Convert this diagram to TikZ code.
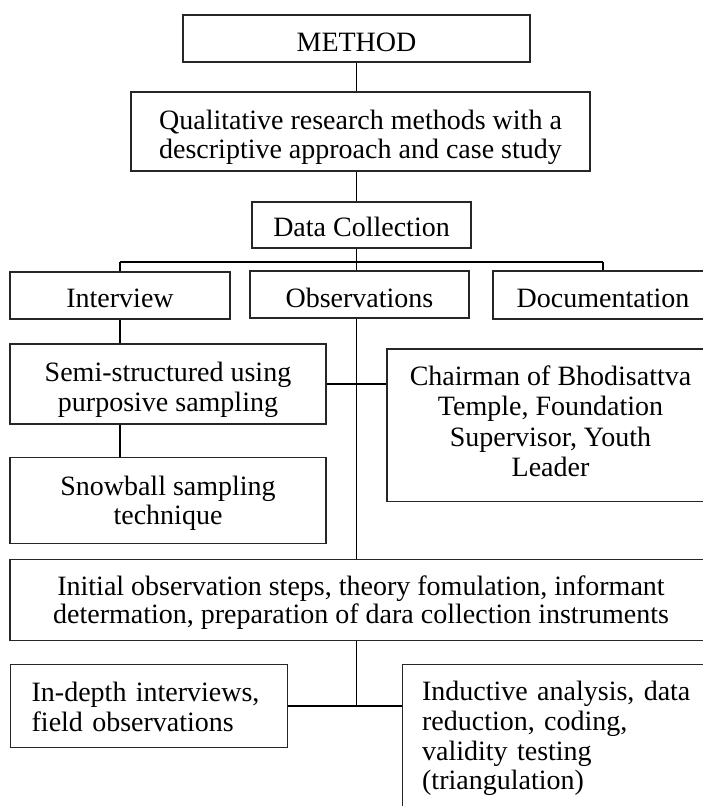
\documentclass[tikz,border=0pt]{standalone}
\usepackage{fontspec}
\setmainfont{Liberation Serif}
% #1 height of first line, #2 depth of last line, #3 text
\newcommand{\tbx}[3]{\rule{0pt}{#1pt}#3\rule[-#2pt]{0pt}{0pt}}
\begin{document}
\begin{tikzpicture}[x=1pt,y=-1pt,
  box/.style={draw=black!85, line width=1.3pt, inner sep=0pt, align=center,
    font=\fontsize{28}{29.5}\selectfont},
  conn/.style={line width=1.9pt, black},
  bus/.style={line width=2.3pt, black}]
\useasboundingbox (0,0) rectangle (703,806);
\coordinate (spine) at (356.5,0);
\coordinate (bus) at (0,262);
% boxes
\node[box, minimum width=347pt, minimum height=47pt] (method) at (356.5,38.5)
  {\tbx{34.4}{8}{METHOD}};
\node[box, minimum width=459pt, minimum height=79pt] (qual) at (360.5,131.5)
  {\tbx{33.1}{8}{Qualitative research methods with a\\descriptive approach and case study}};
\node[box, minimum width=219pt, minimum height=46pt] (dc) at (361.5,225)
  {\tbx{31.4}{8}{Data Collection}};
\node[box, minimum width=220pt, minimum height=47pt] (interview) at (120,295.5)
  {\tbx{32}{8}{Interview}};
\node[box, minimum width=219pt, minimum height=47pt] (obs) at (359.5,294.5)
  {\tbx{34}{8}{Observations}};
\node[box, minimum width=220pt, minimum height=48pt] (doc) at (603,295)
  {\tbx{33}{8}{Documentation}};
\node[box, minimum width=316pt, minimum height=80pt] (semi) at (168,384)
  {\tbx{32.9}{8}{Semi-structured using\\purposive sampling}};
\node[box, minimum width=327pt, minimum height=152.7pt,
  font=\fontsize{28}{30.5}\selectfont] (chair) at (550.5,425.35)
  {\tbx{20}{9.2}{Chairman of Bhodisattva\\Temple, Foundation\\Supervisor, Youth\\Leader}};
\node[box, minimum width=316pt, minimum height=86pt] (snow) at (168,500.3)
  {\tbx{26.9}{8}{Snowball sampling\\technique}};
\node[box, minimum width=702pt, minimum height=81.4pt,
  font=\fontsize{28}{28.5}\selectfont] (init) at (361,600)
  {\tbx{26.5}{8}{Initial observation steps, theory fomulation, informant\\determation, preparation of dara collection instruments}};
\node[box, anchor=north west, align=left, text width=235pt, inner xsep=21pt,
  minimum height=82.7pt, font=\fontsize{28}{30}\selectfont] (indepth) at (10,664)
  {\tbx{28.8}{8}{In-depth interviews,\\field observations}};
\node[box, anchor=north west, align=left, text width=290pt, inner xsep=19.5pt,
  inner ysep=10pt, font=\fontsize{28}{29.7}\selectfont] (induct) at (402,664)
  {\tbx{26}{20}{Inductive analysis, data\\reduction, coding,\\validity testing\\(triangulation)}};
% connectors
\draw[conn] (method.south -| spine) -- (qual.north -| spine);
\draw[conn] (qual.south -| spine) -- (dc.north -| spine);
\draw[conn] (dc.south -| spine) -- (obs.north -| spine);
\draw[bus] (bus -| interview) -- (bus -| doc);
\draw[conn] (bus -| interview) -- (interview.north);
\draw[conn] (bus -| doc) -- (doc.north);
\draw[conn] (interview.south) -- (interview.south |- semi.north);
\draw[conn] (interview.south |- semi.south) -- (interview.south |- snow.north);
\draw[conn] (obs.south -| spine) -- (init.north -| spine);
\draw[bus] (semi.east) -- (semi.east -| chair.west);
\draw[conn] (init.south -| spine) -- (spine |- indepth.east);
\draw[bus] (indepth.east) -- (indepth.east -| induct.west);
\end{tikzpicture}
\end{document}
